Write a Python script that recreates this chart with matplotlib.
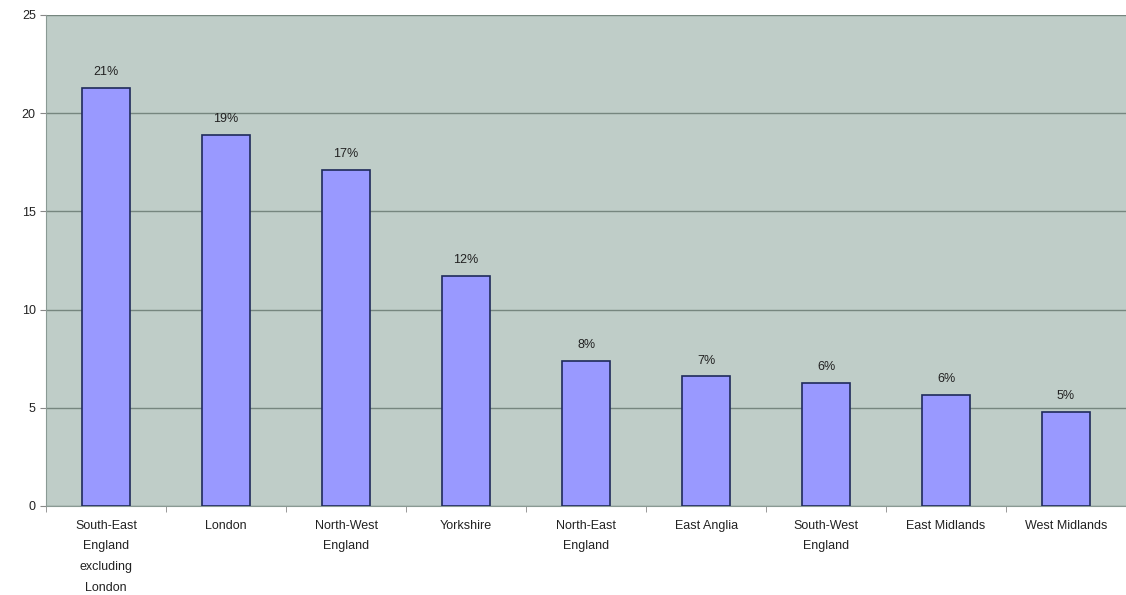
import numpy as np
import matplotlib.pyplot as plt

regions = ['South-East\nEngland\nexcluding\nLondon', 'London', 'North-West\nEngland',
           'Yorkshire', 'North-East\nEngland', 'East Anglia', 'South-West\nEngland',
           'East Midlands', 'West Midlands']
values = [21.3, 18.9, 17.1, 11.7, 7.4, 6.6, 6.25, 5.65, 4.8]
pct_labels = ['21%', '19%', '17%', '12%', '8%', '7%', '6%', '6%', '5%']

plt.rcParams['font.family'] = ['Liberation Sans', 'DejaVu Sans']

fig = plt.figure(figsize=(11.26, 5.95), dpi=100)
ax = fig.add_axes([0.041, 0.1496, 0.959, 0.8252])
ax.set_facecolor('#bfcdc8')

x = np.arange(len(regions))
ax.bar(x, values, width=0.4, color='#9999ff', edgecolor='#1f2a5a', linewidth=1.2, zorder=3)

for xi, v, lab in zip(x, values, pct_labels):
    ax.text(xi, v + 0.5, lab, ha='center', va='bottom', fontsize=9, color='#222222')

ax.set_xlim(-0.5, len(regions) - 0.5)
ax.set_ylim(0, 25)
ax.set_yticks([0, 5, 10, 15, 20, 25])
ax.yaxis.grid(True, color='#76867f', linewidth=1, zorder=0)

ax.set_xticks(x)
ax.set_xticklabels(regions, fontsize=9, color='#222222', linespacing=1.95)
ax.set_xticks(np.arange(-0.5, len(regions)), minor=True)
ax.tick_params(axis='x', which='major', length=0, pad=10)
ax.tick_params(axis='x', which='minor', length=4, color='#888888')
ax.tick_params(axis='y', labelsize=9, length=4, color='#888888', labelcolor='#222222')

for side in ['top', 'right']:
    ax.spines[side].set_visible(False)
ax.spines['left'].set_color('#8a9a94')
ax.spines['bottom'].set_color('#8a9a94')

plt.savefig('out.png')
plt.close()
